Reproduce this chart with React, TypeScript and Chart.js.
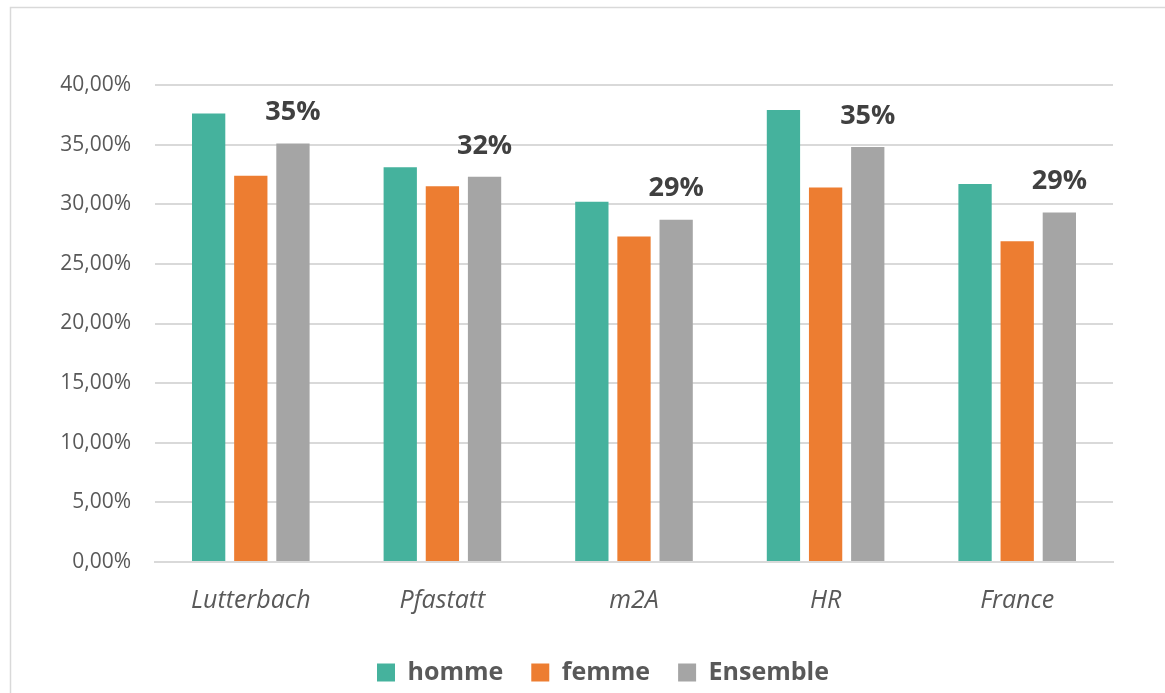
import React, { useEffect, useRef } from "react";
import { Chart, registerables } from "chart.js";

Chart.register(...registerables);

const categories = ["Lutterbach", "Pfastatt", "m2A", "HR", "France"];
const homme = [37.6, 33.1, 30.2, 37.9, 31.7];
const femme = [32.4, 31.5, 27.3, 31.4, 26.9];
const ensemble = [35.1, 32.3, 28.7, 34.8, 29.3];
const seriesNames = ["homme", "femme", "Ensemble"];
const seriesColors = ["#45B29D", "#ED7D31", "#A5A5A5"];

const FONT = "'Open Sans', Lato, sans-serif";

const frame = {
  id: "frame",
  beforeDraw(chart: any) {
    const ctx = chart.ctx;
    ctx.save();
    ctx.fillStyle = "#ffffff";
    ctx.fillRect(0, 0, chart.width, chart.height);
    ctx.strokeStyle = "#d9d9d9";
    ctx.lineWidth = 1.5;
    ctx.strokeRect(10.5, 7.5, chart.width + 20, chart.height + 20);
    ctx.restore();
  },
};

const dataLabels = {
  id: "dataLabels",
  afterDatasetsDraw(chart: any) {
    const ctx = chart.ctx;
    const meta = chart.getDatasetMeta(2);
    const values = chart.data.datasets[2].data as number[];
    ctx.save();
    ctx.font = `bold 27px ${FONT}`;
    ctx.fillStyle = "#404040";
    ctx.textAlign = "center";
    ctx.textBaseline = "middle";
    meta.data.forEach((el: any, i: number) => {
      ctx.fillText(Math.round(values[i]) + "%", el.x, el.y - 31);
    });
    ctx.restore();
  },
};

export default function App() {
  const ref = useRef<HTMLCanvasElement>(null);
  useEffect(() => {
    if (!ref.current) return;
    const chart = new Chart(ref.current, {
      type: "bar",
      data: {
        labels: categories,
        datasets: [homme, femme, ensemble].map((d, i) => ({
          label: seriesNames[i],
          data: d,
          backgroundColor: seriesColors[i],
          barPercentage: 0.79,
          categoryPercentage: 0.66,
        })),
      },
      options: {
        animation: false,
        responsive: true,
        maintainAspectRatio: false,
        layout: { padding: { top: 85, right: 0, left: 41, bottom: -2 } },
        scales: {
          x: {
            grid: { display: false },
            border: { color: "#d9d9d9", width: 2 },
            ticks: {
              color: "#595959",
              font: { family: FONT, size: 25, style: "italic" },
              padding: 16,
            },
            afterFit: (s: any) => {
              s.height = 70;
            },
          },
          y: {
            min: 0,
            max: 40,
            grid: { color: "#d9d9d9", lineWidth: 2, drawTicks: false },
            border: { display: false },
            ticks: {
              stepSize: 5,
              color: "#595959",
              font: { family: FONT, size: 21 },
              padding: 24,
              callback: (v: any) => Number(v).toFixed(2).replace(".", ",") + "%",
            },
            afterFit: (s: any) => {
              s.width = 114;
            },
          },
          yRight: {
            type: "linear",
            position: "right",
            grid: { display: false },
            border: { display: false },
            ticks: { display: false },
            afterFit: (s: any) => {
              s.width = 52;
            },
          },
        },
        plugins: {
          legend: {
            position: "bottom",
            labels: {
              color: "#595959",
              font: { family: FONT, size: 25, weight: "bold" },
              boxWidth: 18,
              boxHeight: 18,
              padding: 28,
            },
          },
          tooltip: { enabled: false },
        },
      },
      plugins: [frame, dataLabels],
    });
    return () => chart.destroy();
  }, []);
  return (
    <div style={{ position: "fixed", left: 0, top: 0, width: 1165, height: 693 }}>
      <canvas ref={ref} />
    </div>
  );
}
